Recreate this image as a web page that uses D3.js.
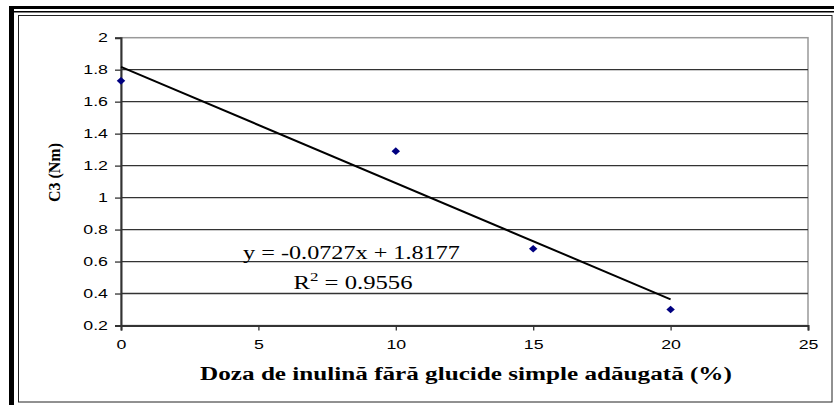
<!DOCTYPE html>
<html>
<head>
<meta charset="utf-8">
<script src="https://cdn.jsdelivr.net/npm/d3@7"></script>
<style>
  html, body { margin: 0; padding: 0; background: #fff; }
  svg { display: block; }
</style>
</head>
<body>
<div id="chart"></div>
<script>
// data
const doses = [0, 10, 15, 20];
const c3Values = [1.73, 1.29, 0.68, 0.30];
const xTicks = [0, 5, 10, 15, 20, 25];
const yTicks = [0.2, 0.4, 0.6, 0.8, 1, 1.2, 1.4, 1.6, 1.8, 2];
const trendSlope = -0.0727;
const trendIntercept = 1.8177;
const trendRange = [0, 20];
const eqText = "y = -0.0727x + 1.8177";
const r2Value = "0.9556";

document.addEventListener('DOMContentLoaded', function () {
    const W = 834, H = 405;
    const plot = { left: 121, right: 808, top: 37.7, bottom: 325.5 };
    const serif = "'Liberation Serif', 'Times New Roman', serif";
    const sans = "Arial, 'Liberation Sans', sans-serif";
    const stretch = 1.42; // the source image is wider than it is tall

    const svg = d3.select("#chart")
        .append("svg")
        .attr("width", W)
        .attr("height", H);

    // outer frame
    svg.append("rect").attr("x", 9).attr("y", 6).attr("width", W - 9).attr("height", 3).attr("fill", "#000");
    svg.append("rect").attr("x", 9).attr("y", 11).attr("width", W - 9).attr("height", 1.5).attr("fill", "#000");
    svg.append("rect").attr("x", 9).attr("y", 6).attr("width", 5).attr("height", H - 6).attr("fill", "#000");

    // chart area
    svg.append("rect")
        .attr("x", 18.5).attr("y", 15.5)
        .attr("width", 832 - 18.5).attr("height", 402 - 15.5)
        .attr("fill", "#fff")
        .attr("stroke", "#222")
        .attr("stroke-width", 1);

    const xScale = d3.scaleLinear().domain([0, 25]).range([plot.left, plot.right]);
    const yScale = d3.scaleLinear().domain([0.2, 2]).range([plot.bottom, plot.top]);

    // plot area border (grey)
    svg.append("rect")
        .attr("x", plot.left).attr("y", plot.top)
        .attr("width", plot.right - plot.left).attr("height", plot.bottom - plot.top)
        .attr("fill", "#fff")
        .attr("stroke", "#999")
        .attr("stroke-width", 1.5);

    // gridlines
    svg.append("g")
        .selectAll("line")
        .data(yTicks.filter(d => d > 0.2 && d < 2))
        .join("line")
        .attr("x1", plot.left).attr("x2", plot.right)
        .attr("y1", d => yScale(d)).attr("y2", d => yScale(d))
        .attr("stroke", "#333")
        .attr("stroke-width", 1.3);

    // Y axis
    const yAxis = svg.append("g")
        .attr("transform", "translate(" + plot.left + ",0)")
        .call(d3.axisLeft(yScale).tickValues(yTicks).tickSize(6).tickPadding(8).tickFormat(d => String(+d.toFixed(1))));
    yAxis.select(".domain").attr("stroke", "#333").attr("stroke-width", 2);
    yAxis.selectAll(".tick line").attr("stroke", "#333").attr("stroke-width", 1.3);
    yAxis.selectAll("text")
        .style("font-family", sans).style("font-size", "12.5px").attr("fill", "#000")
        .attr("transform", function () {
            const x = +d3.select(this).attr("x");
            d3.select(this).attr("x", 0);
            return "translate(" + (x + 1) + ",0) scale(" + stretch + ",1)";
        });

    // X axis
    const xAxis = svg.append("g")
        .attr("transform", "translate(0," + plot.bottom + ")")
        .call(d3.axisBottom(xScale).tickValues(xTicks).tickSize(5).tickPadding(10));
    xAxis.select(".domain").attr("stroke", "#333").attr("stroke-width", 2);
    xAxis.selectAll(".tick line").attr("stroke", "#333").attr("stroke-width", 1.3);
    xAxis.selectAll("text")
        .style("font-family", sans).style("font-size", "12.5px").attr("fill", "#000")
        .attr("transform", "scale(" + stretch + ",1)");

    // trendline
    svg.append("line")
        .attr("x1", xScale(trendRange[0]))
        .attr("y1", yScale(trendSlope * trendRange[0] + trendIntercept))
        .attr("x2", xScale(trendRange[1]))
        .attr("y2", yScale(trendSlope * trendRange[1] + trendIntercept))
        .attr("stroke", "#000")
        .attr("stroke-width", 2);

    // points
    svg.append("g")
        .selectAll("path")
        .data(doses.map((d, i) => [d, c3Values[i]]))
        .join("path")
        .attr("transform", d => "translate(" + xScale(d[0]) + "," + yScale(d[1]) + ") scale(1.1,1)")
        .attr("d", d3.symbol().type(d3.symbolDiamond2).size(38))
        .attr("fill", "#000080");

    // places a text at (x, y) and stretches it to the wanted width
    function label(x, y, width, rotate) {
        const g = svg.append("g");
        const t = g.append("text").attr("text-anchor", "middle");
        t.fit = function () {
            const k = width / this.node().getBBox().width;
            g.attr("transform", "translate(" + x + "," + y + ")" + (rotate ? " rotate(" + rotate + ")" : "") + " scale(" + k + ",1)");
            return this;
        };
        return t;
    }

    // equation label
    label(351.5, 259, 217)
        .style("font-family", serif).style("font-size", "19px")
        .text(eqText)
        .fit();

    const r2 = label(353, 289, 119)
        .style("font-family", serif).style("font-size", "19px");
    r2.append("tspan").text("R");
    r2.append("tspan").attr("dy", -8).style("font-size", "13px").text("2");
    r2.append("tspan").attr("dy", 8).text(" = " + r2Value);
    r2.fit();

    // axis titles
    label(59.5, 172.5, 59, -90)
        .style("font-family", serif).style("font-weight", "bold").style("font-size", "16px")
        .text("C3 (Nm)")
        .fit();

    label(466, 380, 532)
        .style("font-family", serif).style("font-weight", "bold").style("font-size", "18.5px")
        .text("Doza de inulină fără glucide simple adăugată (%)")
        .fit();
});
</script>
</body>
</html>
